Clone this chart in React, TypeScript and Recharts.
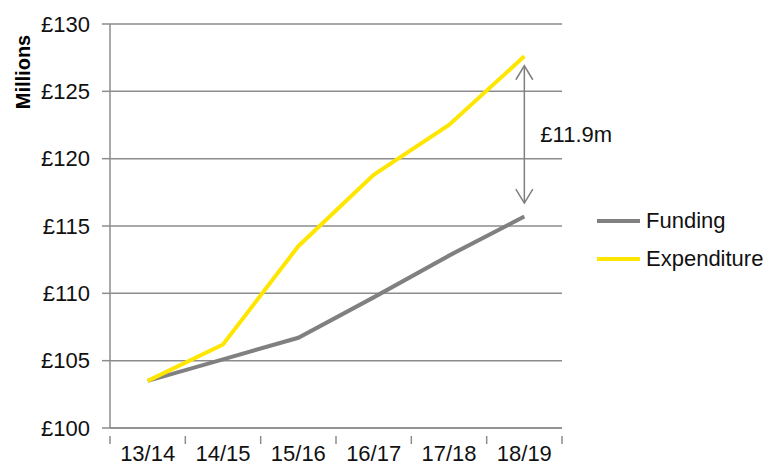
import { LineChart, Line, XAxis, YAxis, CartesianGrid, Legend, ReferenceLine } from "recharts";

const years = ["13/14", "14/15", "15/16", "16/17", "17/18", "18/19"];
const funding = [103.5, 105.1, 106.7, 109.7, 112.8, 115.7];
const expenditure = [103.5, 106.2, 113.5, 118.8, 122.5, 127.6];
const yTicks = [100, 105, 110, 115, 120, 125, 130];
const seriesOrder = ["Funding", "Expenditure"];
const gapLabel = "£11.9m";
const gapTop = 126.9;
const gapBottom = 116.7;

const data = years.map((year, i) => ({
  year,
  Funding: funding[i],
  Expenditure: expenditure[i],
}));

const FONT = '"Liberation Sans", Arial, sans-serif';
const FS = 22;
const GRID = "#8c8c8c";
const WIDTH = 765;
const HEIGHT = 465;
const MARGIN = { top: 24, right: 203, bottom: 0, left: 0 };
const Y_WIDTH = 110;
const BAND = (WIDTH - MARGIN.right - MARGIN.left - Y_WIDTH) / years.length;

// category labels at the centre, tick marks on the band edges
function XTick(props: any) {
  const { x, y, payload, index } = props;
  const left = x - BAND / 2;
  const right = x + BAND / 2;
  return (
    <g>
      <line x1={left} y1={y} x2={left} y2={y + 8} stroke={GRID} strokeWidth={1.5} />
      {index === years.length - 1 && (
        <line x1={right} y1={y} x2={right} y2={y + 8} stroke={GRID} strokeWidth={1.5} />
      )}
      <text x={x} y={y + 8} dy="0.75em" textAnchor="middle" fontSize={FS} fontFamily={FONT} fill="#111">
        {payload.value}
      </text>
    </g>
  );
}

function GapArrow(props: any) {
  const { x1, y1, y2 } = props;
  const c = "#7f7f7f";
  return (
    <g>
      <line x1={x1} y1={y1} x2={x1} y2={y2} stroke={c} strokeWidth={1.5} />
      <polyline points={`${x1 - 8.5},${y1 + 14} ${x1},${y1} ${x1 + 8.5},${y1 + 14}`} fill="none" stroke={c} strokeWidth={1.5} />
      <polyline points={`${x1 - 8.5},${y2 - 14} ${x1},${y2} ${x1 + 8.5},${y2 - 14}`} fill="none" stroke={c} strokeWidth={1.5} />
      <text x={x1 + 16} y={(y1 + y2) / 2 + 8} fontSize={FS} fontFamily={FONT} fill="#111">
        {gapLabel}
      </text>
    </g>
  );
}

function LegendBox(props: any) {
  const items = [...(props.payload || [])].sort(
    (a: any, b: any) => seriesOrder.indexOf(a.value) - seriesOrder.indexOf(b.value)
  );
  return (
    <div style={{ fontFamily: FONT, fontSize: FS, color: "#111" }}>
      {items.map((p: any) => (
        <div key={p.value} style={{ display: "flex", alignItems: "center", height: 38 }}>
          <span style={{ display: "inline-block", width: 43, height: 4, background: p.color, marginRight: 6 }} />
          {p.value}
        </div>
      ))}
    </div>
  );
}

export default function App() {
  return (
    <div style={{ position: "absolute", left: 0, top: 0, background: "#fff" }}>
      <LineChart width={WIDTH} height={HEIGHT} data={data} margin={MARGIN}>
        <CartesianGrid horizontal vertical={false} stroke={GRID} strokeWidth={1.5} />
        <XAxis
          dataKey="year"
          scale="band"
          height={37}
          axisLine={{ stroke: GRID, strokeWidth: 1.5 }}
          tickLine={false}
          tick={<XTick />}
          interval={0}
        />
        <YAxis
          width={Y_WIDTH}
          domain={[100, 130]}
          ticks={yTicks}
          tickFormatter={(v: number) => `£${v}`}
          axisLine={{ stroke: GRID, strokeWidth: 1.5 }}
          tickLine={{ stroke: GRID, strokeWidth: 1.5 }}
          tickSize={8}
          tickMargin={12}
          tick={{ fontSize: FS, fontFamily: FONT, fill: "#111" }}
          label={{
            content: (p: any) => (
              <text
                x={30}
                y={p.viewBox.y + 48}
                transform={`rotate(-90, 30, ${p.viewBox.y + 48})`}
                textAnchor="middle"
                fontSize={20}
                fontWeight="bold"
                fontFamily={FONT}
                fill="#000"
              >
                Millions
              </text>
            ),
          }}
        />
        <Line type="linear" dataKey="Funding" stroke="#808080" strokeWidth={4} dot={false} isAnimationActive={false} />
        <Line type="linear" dataKey="Expenditure" stroke="#ffe600" strokeWidth={4} dot={false} isAnimationActive={false} />
        <ReferenceLine
          segment={[
            { x: years[5], y: gapTop },
            { x: years[5], y: gapBottom },
          ]}
          shape={<GapArrow />}
        />
        <Legend
          layout="vertical"
          align="center"
          verticalAlign="middle"
          content={<LegendBox />}
          wrapperStyle={{ position: "absolute", left: 597, top: 202, width: 168 }}
        />
      </LineChart>
    </div>
  );
}
